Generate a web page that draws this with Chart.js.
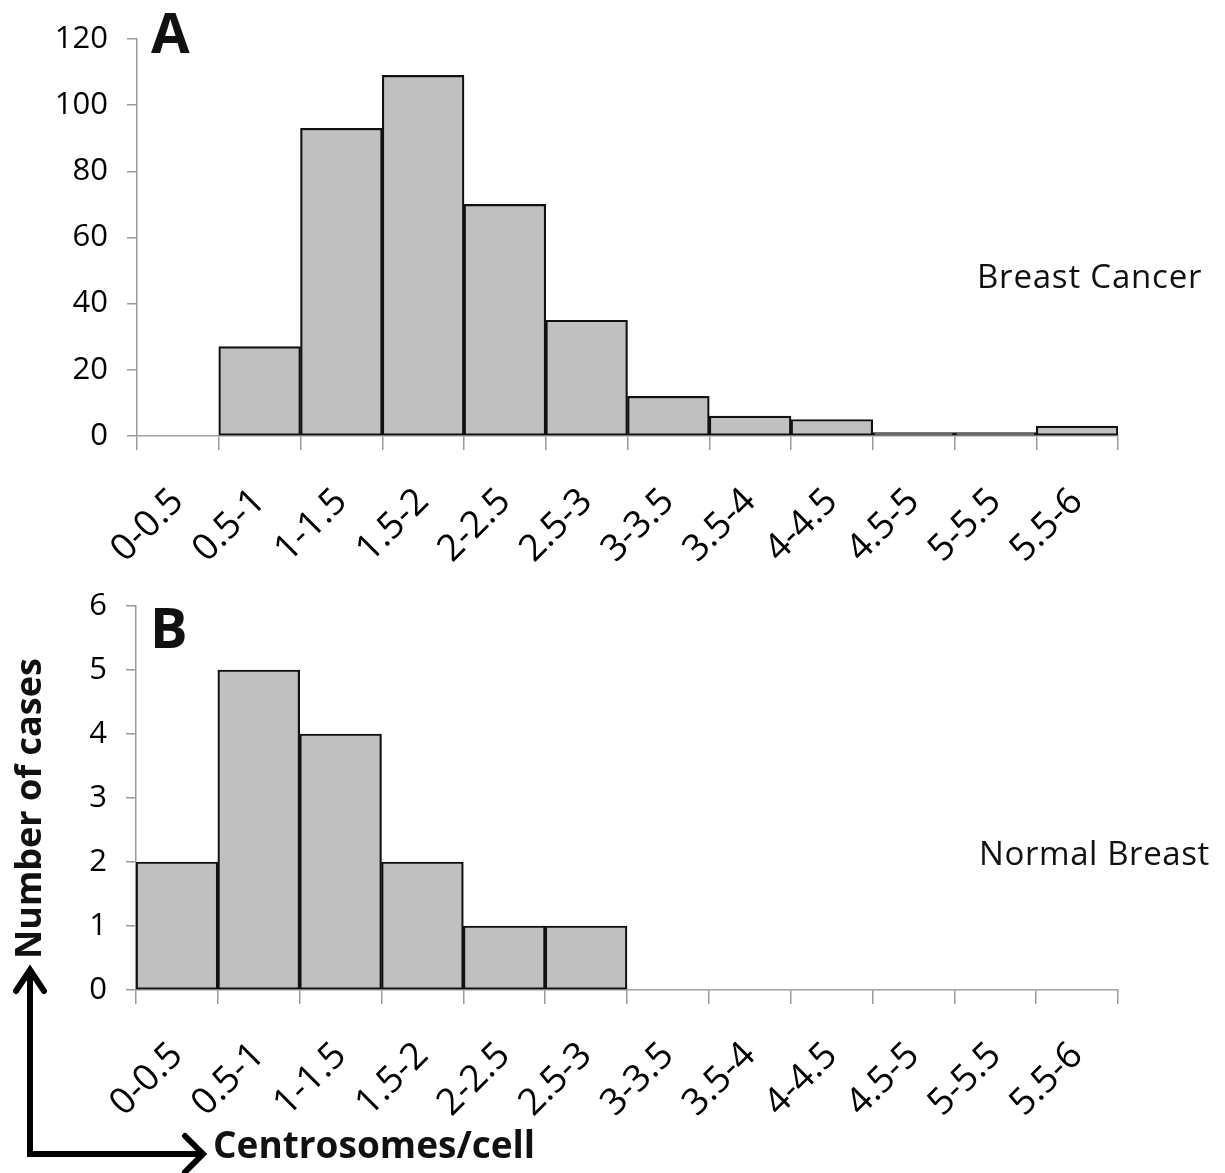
<!DOCTYPE html>
<html>
<head>
<meta charset="utf-8">
<script src="https://cdn.jsdelivr.net/npm/chart.js@4"></script>
<style>
html,body{margin:0;padding:0;background:#fff;}
body{width:1225px;height:1173px;position:relative;overflow:hidden;font-family:'Open Sans',sans-serif;color:#111;}
canvas{position:absolute;left:0;}
#cA{top:-10px;}
#cB{top:562px;}
.t{position:absolute;white-space:nowrap;line-height:1;}
svg{position:absolute;left:0;top:0;}
</style>
</head>
<body>
<canvas id="cA" width="1225" height="590"></canvas>
<canvas id="cB" width="1225" height="588"></canvas>
<svg width="1225" height="1173">
  <polyline points="30,972 30,1154 200,1154" fill="none" stroke="#000" stroke-width="6" stroke-linejoin="miter"/>
  <polyline points="16,991 30,970 44,991" fill="none" stroke="#000" stroke-width="6" stroke-linecap="round"/>
  <polyline points="185,1136 203,1154 185,1172" fill="none" stroke="#000" stroke-width="6" stroke-linecap="round"/>
</svg>
<div class="t" style="left:151px;top:3px;font-size:56px;font-weight:700;">A</div>
<div class="t" style="left:150px;top:598px;font-size:56px;font-weight:700;">B</div>
<div class="t" style="left:977px;top:259px;font-size:33px;letter-spacing:0.8px;">Breast Cancer</div>
<div class="t" style="left:979px;top:836px;font-size:33px;letter-spacing:0.6px;">Normal Breast</div>
<div class="t" style="left:10px;top:959px;font-size:36px;font-weight:700;transform:rotate(-90deg);transform-origin:0 0;">Number of cases</div>
<div class="t" style="left:213px;top:1125px;font-size:37px;font-weight:700;">Centrosomes/cell</div>
<script>
// ---- data ----
const categories = ['0-0.5','0.5-1','1-1.5','1.5-2','2-2.5','2.5-3','3-3.5','3.5-4','4-4.5','4.5-5','5-5.5','5.5-6'];
const cancerCounts = [0, 27, 93, 109, 70, 35, 12, 6, 5, 1, 1, 3];
const normalCounts = [2, 5, 4, 2, 1, 1, 0, 0, 0, 0, 0, 0];
const cancerTicks = [0, 20, 40, 60, 80, 100, 120];
const normalTicks = [0, 1, 2, 3, 4, 5, 6];

const AXIS = '#9a9a9a';
const TXT = '#000';

function makeChart(id, values, yTicks, padTop, yWidth, xHeight) {
  const yMax = yTicks[yTicks.length - 1];
  return new Chart(document.getElementById(id), {
    type: 'bar',
    data: {
      labels: categories,
      datasets: [{
        data: values,
        backgroundColor: '#c0c0c0',
        borderColor: '#111',
        borderWidth: ctx => (ctx.raw === 0 ? 0 : 2.2),
        borderSkipped: false,
        barPercentage: 1,
        categoryPercentage: 1
      }]
    },
    options: {
      responsive: false,
      animation: false,
      devicePixelRatio: 1,
      layout: { padding: { top: padTop, right: 107, left: 0, bottom: 0 } },
      plugins: { legend: { display: false }, tooltip: { enabled: false } },
      scales: {
        x: {
          type: 'category',
          offset: true,
          grid: { offset: true, drawOnChartArea: false, drawTicks: true, tickLength: 14, color: AXIS, lineWidth: 1.5 },
          border: { display: true, color: AXIS, width: 1.5 },
          ticks: { minRotation: 45, maxRotation: 45, autoSkip: false, color: TXT, font: { family: 'Open Sans', size: 37 }, padding: 30 },
          afterFit: s => { s.height = xHeight; }
        },
        y: {
          min: 0,
          max: yMax,
          grid: { drawOnChartArea: false, drawTicks: true, tickLength: 10, color: AXIS, lineWidth: 1.5 },
          border: { display: true, color: AXIS, width: 1.5 },
          ticks: { color: TXT, font: { family: 'Open Sans', size: 31 }, padding: 19 },
          afterBuildTicks: s => { s.ticks = yTicks.map(v => ({ value: v })); },
          afterFit: s => { s.width = yWidth; }
        }
      }
    }
  });
}

makeChart('cA', cancerCounts, cancerTicks, 49, 137, 144);
makeChart('cB', normalCounts, normalTicks, 44, 136, 160);
</script>
</body>
</html>
